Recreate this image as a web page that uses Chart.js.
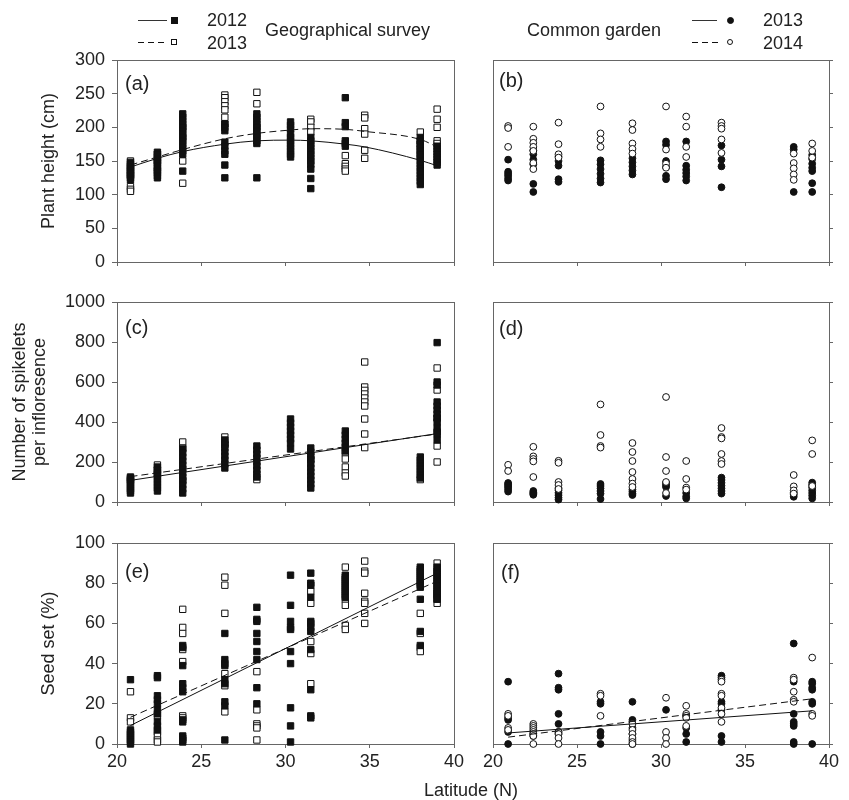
<!DOCTYPE html>
<html><head><meta charset="utf-8">
<script src="https://cdn.jsdelivr.net/npm/chart.js@4.4.1/dist/chart.umd.min.js"></script>
<style>
body{margin:0;background:#fff;width:849px;height:800px;overflow:hidden;position:relative;font-family:"Liberation Sans",Arial,sans-serif;color:#222}
canvas{position:absolute;left:0;top:0}
.t{position:absolute;white-space:nowrap;font-size:18px;line-height:18px}
.pl{position:absolute;white-space:nowrap;font-size:20px;line-height:20px}
.ln{position:absolute;height:1px;background:#333;width:29px}
.ln.d{background:repeating-linear-gradient(to right,#111 0 6px,transparent 6px 10px)}
.sq{position:absolute;width:5px;height:5px;background:#111;border:1px solid #111}
.sq.o{background:#fff;width:4px;height:4px}
.ci{position:absolute;width:5px;height:5px;border-radius:50%;background:#111;border:1px solid #111}
.ci.o{background:#fff;width:4px;height:4px}
</style></head>
<body>
<canvas id="ca" width="849" height="800"></canvas>
<canvas id="cb" width="849" height="800"></canvas>
<canvas id="cc" width="849" height="800"></canvas>
<canvas id="cd" width="849" height="800"></canvas>
<canvas id="ce" width="849" height="800"></canvas>
<canvas id="cf" width="849" height="800"></canvas>

<div class="ln" style="left:138px;top:20px"></div>
<div class="sq" style="left:171px;top:17px"></div>
<div class="t" style="left:207px;top:11px">2012</div>
<div class="ln d" style="left:138px;top:42px"></div>
<div class="sq o" style="left:171px;top:39px"></div>
<div class="t" style="left:207px;top:34px">2013</div>
<div class="t" style="left:265px;top:21px">Geographical survey</div>
<div class="t" style="left:527px;top:21px">Common garden</div>
<div class="ln" style="left:692px;top:20px;width:25px"></div>
<div class="ci" style="left:727px;top:17px"></div>
<div class="t" style="left:763px;top:11px">2013</div>
<div class="ln d" style="left:692px;top:42px;width:26px"></div>
<div class="ci o" style="left:727px;top:39px"></div>
<div class="t" style="left:763px;top:34px">2014</div>

<div class="pl" style="left:125px;top:73px">(a)</div>
<div class="pl" style="left:499px;top:70px">(b)</div>
<div class="pl" style="left:125px;top:317px">(c)</div>
<div class="pl" style="left:499px;top:318px">(d)</div>
<div class="pl" style="left:125px;top:561px">(e)</div>
<div class="pl" style="left:501px;top:562px">(f)</div>
<div class="t" style="left:424px;top:781px">Latitude (N)</div>

<script>
// ---- site latitudes ----
const surveyLat = [20.8, 22.4, 23.9, 26.4, 28.3, 30.3, 31.5, 33.55, 34.7, 38.0, 39.0];
const gardenLat = [20.9, 22.4, 23.9, 26.4, 28.3, 30.3, 31.5, 33.6, 37.9, 39.0];
const xTickLabels = [20, 25, 30, 35, 40];

// ---- (a) plant height, geographical survey ----
const height2012 = [
 [148,145,142,140,137,135,132,130,128,125,122],
 [163,160,155,152,150,147,143,140,137,133,128,125],
 [220,215,210,205,200,195,190,185,180,175,170,165,160,135],
 [205,200,195,178,172,165,160,144,125],
 [220,215,210,205,200,195,190,185,180,176,125],
 [208,203,198,190,185,180,175,170,165,160,156],
 [185,180,175,170,165,160,155,150,145,138,124,109],
 [244,207,201,180,176,172],
 [],
 [185,180,175,170,165,160,155,150,145,140,135,130,125,120,115],
 [172,168,164,160,156,152,148,144]
];
const height2013 = [
 [150,140,130,112,108,105],
 [160,150,135],
 [200,185,150,117],
 [248,244,238,232,226,215,205],
 [252,235,200,188],
 [],
 [212,208,200,193],
 [158,146,142,138,135],
 [218,214,198,190,166,154],
 [193,180,175,167,158],
 [227,212,200,180,176]
];
const heightFitLat = [20.8, 22.4, 23.9, 26.4, 28.3, 30.3, 31.5, 33.55, 34.7, 38.0, 39.0];
const heightFit2012 = [141, 154, 164, 175, 180, 181, 180, 175, 171, 151, 143];
const heightFit2013 = [144, 156, 167, 183, 191, 196, 198, 197, 194, 182, 171];

// ---- (b) plant height, common garden ----
const gHeight2013 = [
 [152,134,131,128,124,121],
 [166,160,152,145,116,104],
 [157,150,143,123,119],
 [151,145,138,131,124,118],
 [154,148,142,136,130],
 [179,174,150,141,128,123],
 [179,143,137,132,127,121],
 [173,152,142,111],
 [171,167,104],
 [159,153,146,140,135,117,104]
];
const gHeight2014 = [
 [202,199,171],
 [201,183,177,171,165,147,138],
 [207,175,160,155],
 [231,191,182,171],
 [206,196,176,168,161],
 [231,167,146,140],
 [216,201,171,156],
 [207,202,198,182,162],
 [161,147,139,130,122],
 [176,165,155]
];

// ---- (c) spikelets, survey ----
const spike2012 = [
 [125,115,105,95,85,75,65,55,45],
 [175,160,145,130,115,100,85,70,55],
 [265,245,225,205,185,165,145,125,105,85,65,45],
 [310,290,270,250,230,210,190,170],
 [280,260,240,220,200,180,160,140,125],
 [415,395,375,355,335,315,295,265],
 [270,250,230,210,190,170,150,130,110,90,70],
 [355,335,315,295,275,255],
 [],
 [225,210,195,180,165,150,135,120],
 [797,600,585,500,480,460,440,420,400,370,350,340,310]
];
const spike2013 = [
 [120,110],
 [185,160,140],
 [300,270,110],
 [325,295,285],
 [112],
 [],
 [215],
 [245,215,175,145,130],
 [700,575,558,540,520,500,480,415,340,272],
 [112],
 [670,560,420,280,200]
];
const linFitLat = [20.8, 39.0];
const spikeFit2012 = [108, 342];
const spikeFit2013 = [127, 340];

// ---- (d) spikelets, garden ----
const gSpike2013 = [
 [95,88,80,72,62,52],
 [55,48,42,36],
 [70,58,46,34,22,12],
 [90,80,68,55,42,15],
 [62,52,42,35],
 [95,85,75,30],
 [45,28,18],
 [122,110,96,82,68,55,42],
 [48,36,26],
 [97,86,72,58,45,32,18]
];
const gSpike2014 = [
 [186,155],
 [276,228,215,203,125],
 [206,196,100,85,65],
 [488,335,280,272],
 [295,250,205,150,115,92,75],
 [525,225,155,100,45],
 [205,115,72,62],
 [370,325,318,240,205,190],
 [135,78,58,42],
 [308,240,80]
];

// ---- (e) seed set, survey ----
const seed2012 = [
 [32,7,6,5,4,3,2,1,0],
 [34,33,24,22,20,17,15,11,9,7],
 [49,48,39,30,28,26,12,11,4,3,2,1],
 [55,42,40,39,32,30,21,19,2],
 [68,62,61,55,51,46,42,28,20],
 [84,69,61,58,57,46,40,18,9,1],
 [85,80,79,73,61,60,58,56,47,27,14,13],
 [84,83,82,81,80,79,78,77,76,75,74,73],
 [],
 [88,87,86,85,84,83,82,81,80,79,78,72,56,49],
 [88,87,86,85,84,83,82,81,80,79,78,77,76,75,74,73,72]
];
const seed2013 = [
 [26,13,11],
 [14,6,4,2,1],
 [67,58,55,47,41,14,13],
 [83,79,65,35,29,16],
 [36,17,10,9,8,2],
 [],
 [76,70,51,45,30],
 [88,72,69,59,57],
 [91,86,85,75,71,70,65,60],
 [65,55,48,46],
 [90,75,72,70]
];
const seedFit2012 = [9.2, 85];
const seedFit2013 = [13.3, 81];

// ---- (f) seed set, garden ----
const gSeed2013 = [
 [31,13,12,6,0],
 [5,4],
 [35,28,27,15,10,6,5],
 [21,20,6,4,0],
 [21,12,8,5,2,0],
 [17],
 [14,8,5,1],
 [34,33,21,20,17,4,1],
 [50,31,15,11,10,9,1,0],
 [31,30,28,27,21,20,0]
];
const gSeed2014 = [
 [15,14,8,7],
 [10,9,8,7,6,5,4,0],
 [6,5,3,0],
 [25,24,14],
 [10,7,5,3,1,0],
 [23,6,3,0],
 [19,15,14,13,9],
 [32,31,25,24,18,15,11],
 [33,32,26,22,21],
 [43,15,14]
];
const gLinFitLat = [20.9, 39.0];
const gSeedFit2013 = [5.5, 16.5];
const gSeedFit2014 = [3.4, 22.5];

// ---- helpers ----
const FONT = '"Liberation Sans", Arial, sans-serif';
const AX = '#666';
const INK = '#111';
function pts(lats, vals){ const out=[]; lats.forEach((lat,i)=>vals[i].forEach(v=>out.push({x:lat,y:v}))); return out; }
function curve(lats, vals){ return lats.map((x,i)=>({x, y: vals[i]})); }

function fitSet(lats, vals, dashed, smooth){
  return {data: curve(lats, vals), showLine:true, pointRadius:0, borderColor:INK, borderWidth:1,
          borderDash: dashed ? [7,4] : [], cubicInterpolationMode: smooth ? 'monotone' : 'default', tension:0, clip:false};
}
function markSet(lats, vals, style, filled){
  return {data: pts(lats, vals), pointStyle: style, pointRadius: style==='rect' ? 4.5 : 3.4,
          backgroundColor: filled ? INK : '#fff', borderColor: INK, borderWidth: 1, showLine:false, clip:false};
}

function panel(id, area, yMax, yStep, o){
  const yW = o.left ? area.l : 0;
  const xH = 40;
  new Chart(document.getElementById(id), {
    type:'scatter',
    data:{datasets:o.sets},
    options:{
      responsive:false, animation:false, events:[],
      layout:{padding:{left: area.l - yW, top: area.t, right: 849 - area.r, bottom: 800 - area.b - xH}},
      plugins:{legend:{display:false}, tooltip:{enabled:false}},
      scales:{
        x:{type:'linear', position:'bottom', min:20, max:40,
           afterBuildTicks: s => { s.ticks = xTickLabels.map(v => ({value:v})); },
           ticks:{display: !!o.bottom, font:{family:FONT,size:18}, color:'#222', padding:3, maxRotation:0, autoSkip:false,
                  callback: v => String(v)},
           grid:{drawOnChartArea:false, drawTicks:true, tickLength:4, color:AX},
           border:{display:true, color:AX, width:1},
           afterFit: s => { s.height = xH; }},
        xTop:{type:'linear', position:'top', min:20, max:40,
           ticks:{display:false}, grid:{drawOnChartArea:false, drawTicks:false, color:AX},
           border:{display:true, color:AX, width:1},
           afterFit: s => { s.height = 0; }},
        y:{type:'linear', position:'left', min:0, max:yMax,
           ticks:{display: !!o.left, stepSize:yStep, font:{family:FONT,size:18}, color:'#222', padding:7,
                  callback: v => String(v)},
           grid:{drawOnChartArea:false, drawTicks: !!o.left, tickLength:5, color:AX},
           border:{display:true, color:AX, width:1},
           title: o.title ? {display:true, text:o.title, font:{family:FONT,size:18, lineHeight:1.1}, color:'#222', padding:{top:o.tpad, bottom:0}} : {display:false},
           afterFit: s => { s.width = yW; }},
        yR:{type:'linear', position:'right', min:0, max:yMax,
           ticks:{display:false, stepSize:yStep},
           grid:{drawOnChartArea:false, drawTicks: !o.left, tickLength:4, color:AX},
           border:{display:true, color:AX, width:1},
           afterFit: s => { s.width = 0; }}
      }
    }
  });
}

const L = {l:117, r:454}, R = {l:493, r:829};
const rowA = {t:60, b:262}, rowC = {t:302, b:502}, rowE = {t:543, b:744};

panel('ca', {...L, ...rowA}, 300, 50, {left:true, title:'Plant height (cm)', tpad:39, sets:[
  fitSet(heightFitLat, heightFit2012, false, true),
  fitSet(heightFitLat, heightFit2013, true, true),
  markSet(surveyLat, height2012, 'rect', true),
  markSet(surveyLat, height2013, 'rect', false)
]});
panel('cb', {...R, ...rowA}, 300, 50, {left:false, sets:[
  markSet(gardenLat, gHeight2014, 'circle', false),
  markSet(gardenLat, gHeight2013, 'circle', true)
]});
panel('cc', {...L, ...rowC}, 1000, 200, {left:true, title:['Number of spikelets','per infloresence'], tpad:10, sets:[
  fitSet(linFitLat, spikeFit2012, false, false),
  fitSet(linFitLat, spikeFit2013, true, false),
  markSet(surveyLat, spike2012, 'rect', true),
  markSet(surveyLat, spike2013, 'rect', false)
]});
panel('cd', {...R, ...rowC}, 1000, 200, {left:false, sets:[
  markSet(gardenLat, gSpike2014, 'circle', false),
  markSet(gardenLat, gSpike2013, 'circle', true)
]});
panel('ce', {...L, ...rowE}, 100, 20, {left:true, bottom:true, title:'Seed set (%)', tpad:39, sets:[
  fitSet(linFitLat, seedFit2012, false, false),
  fitSet(linFitLat, seedFit2013, true, false),
  markSet(surveyLat, seed2012, 'rect', true),
  markSet(surveyLat, seed2013, 'rect', false)
]});
panel('cf', {...R, ...rowE}, 100, 20, {left:false, bottom:true, sets:[
  fitSet(gLinFitLat, gSeedFit2013, false, false),
  fitSet(gLinFitLat, gSeedFit2014, true, false),
  markSet(gardenLat, gSeed2014, 'circle', false),
  markSet(gardenLat, gSeed2013, 'circle', true)
]});
</script>
</body></html>
